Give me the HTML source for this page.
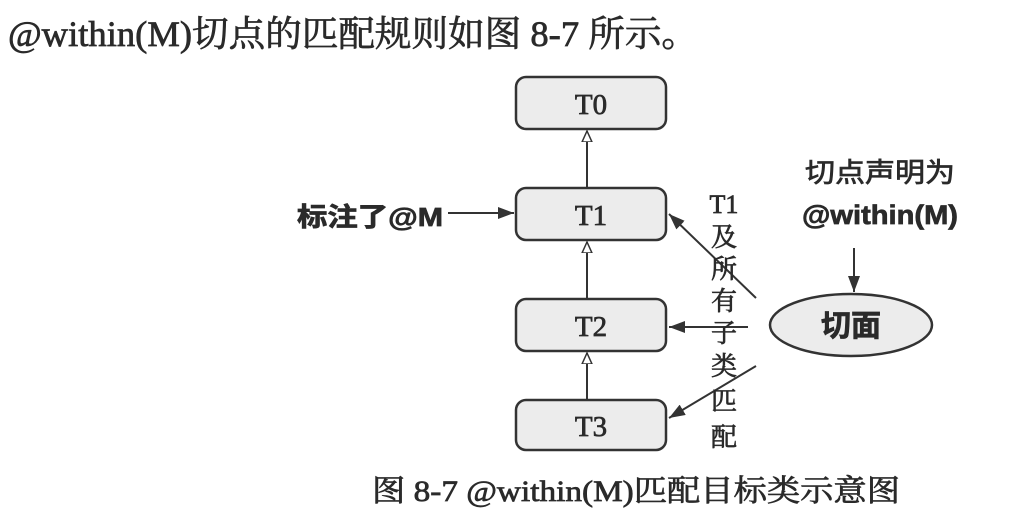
<!DOCTYPE html>
<html><head><meta charset="utf-8"><style>
html,body{margin:0;padding:0;background:#fff;}
svg{display:block;}
text{font-family:"Liberation Serif","Noto Serif CJK SC","Noto Sans CJK SC",serif;fill:#2a2a2a;stroke:#2a2a2a;stroke-width:0.7;}
.s{font-family:"Liberation Sans","Noto Sans CJK SC",sans-serif;}
</style></head><body>
<svg width="1028" height="520" viewBox="0 0 1028 520" xmlns="http://www.w3.org/2000/svg">
<defs>
<marker id="a" markerWidth="16" markerHeight="12" refX="16" refY="6" orient="auto" markerUnits="userSpaceOnUse">
<path d="M0,0 L16,6 L0,12 Z" fill="#333"/></marker>
<marker id="h" markerWidth="12" markerHeight="12" refX="11" refY="6" orient="auto" markerUnits="userSpaceOnUse">
<path d="M0,1 L11,6 L0,11 Z" fill="#fff" stroke="#333" stroke-width="1.5"/></marker>
</defs>
<text x="8" y="46" font-size="36" textLength="690" lengthAdjust="spacingAndGlyphs">@within(M)切点的匹配规则如图 8-7 所示。</text>

<g fill="#ececec" stroke="#333" stroke-width="2.5">
<rect x="516" y="77" width="150" height="52" rx="10"/>
<rect x="516" y="188" width="150" height="52" rx="10"/>
<rect x="516" y="299" width="150" height="52" rx="10"/>
<rect x="516" y="400" width="150" height="50" rx="10"/>
</g>
<g font-size="29" text-anchor="middle">
<text x="591" y="114">T0</text>
<text x="591" y="225">T1</text>
<text x="591" y="336">T2</text>
<text x="591" y="436">T3</text>
</g>
<g stroke="#333" stroke-width="2" fill="none">
<line x1="587" y1="188" x2="587" y2="131" marker-end="url(#h)"/>
<line x1="587" y1="299" x2="587" y2="242" marker-end="url(#h)"/>
<line x1="587" y1="400" x2="587" y2="353" marker-end="url(#h)"/>
<line x1="448" y1="213" x2="514" y2="213" marker-end="url(#a)"/>
<line x1="756" y1="298" x2="669" y2="214" marker-end="url(#a)"/>
<line x1="748" y1="327" x2="669" y2="327" marker-end="url(#a)"/>
<line x1="756" y1="366" x2="669" y2="418" marker-end="url(#a)"/>
<line x1="854" y1="248" x2="854" y2="292" marker-end="url(#a)"/>
</g>
<text class="s" x="297" y="226" font-size="26" font-weight="bold" textLength="146" lengthAdjust="spacingAndGlyphs">标注了@M</text>
<g font-size="26" text-anchor="middle">
<text x="724" y="213">T1</text>
<text x="724" y="246">及</text>
<text x="724" y="278">所</text>
<text x="724" y="310">有</text>
<text x="724" y="342">子</text>
<text x="724" y="375">类</text>
<text x="724" y="410">匹</text>
<text x="724" y="446">配</text>
</g>
<text class="s" x="880" y="182" font-size="27" text-anchor="middle" textLength="150" lengthAdjust="spacingAndGlyphs">切点声明为</text>
<text class="s" x="880" y="224" font-size="27" font-weight="bold" text-anchor="middle" textLength="156" lengthAdjust="spacingAndGlyphs">@within(M)</text>
<ellipse cx="851" cy="325" rx="81" ry="31" fill="#ececec" stroke="#333" stroke-width="2.5"/>
<text class="s" x="851" y="336" font-size="30" font-weight="bold" text-anchor="middle">切面</text>
<text x="372" y="501" font-size="30" textLength="528" lengthAdjust="spacingAndGlyphs">图 8-7  @within(M)匹配目标类示意图</text>
</svg>
</body></html>
